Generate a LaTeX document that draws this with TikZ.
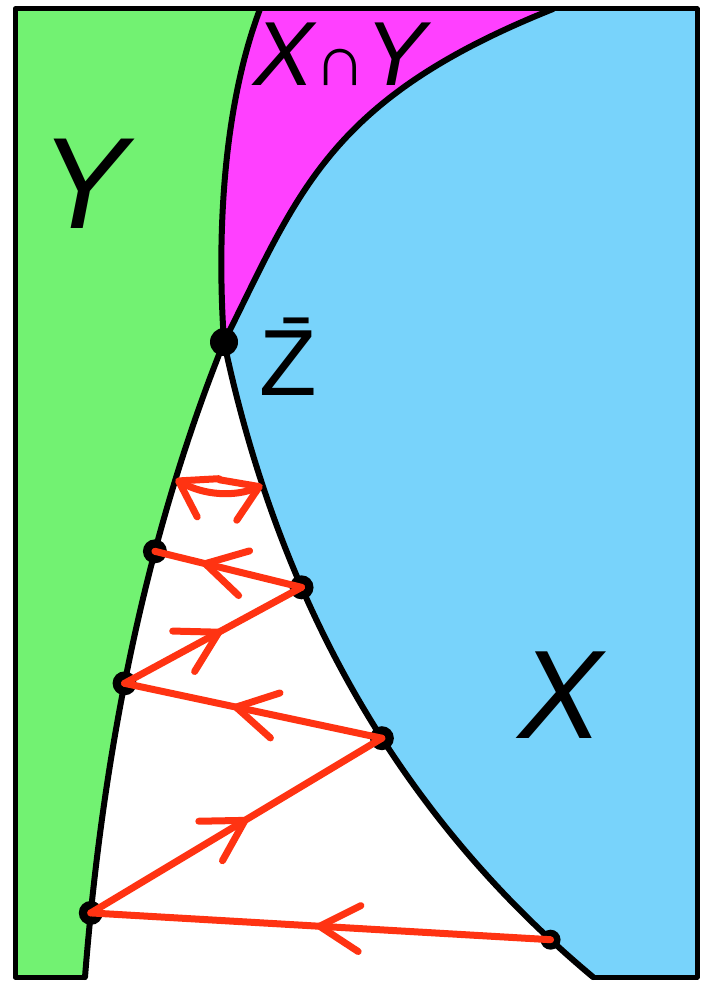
\documentclass[tikz,border=0pt]{standalone}
\usepackage{fontspec}
\setmainfont{Liberation Sans}
\usetikzlibrary{arrows.meta, decorations.markings}
\definecolor{figink}{HTML}{000000}
\definecolor{figgreen}{HTML}{72F272}
\definecolor{figblue}{HTML}{78D3FB}
\definecolor{figmag}{HTML}{FF40FF}
\definecolor{figred}{HTML}{FF3312}

\begin{document}
\begin{tikzpicture}[
  x=1pt, y=-1pt,
  line cap=round, line join=round,
  rim/.style   = {draw=figink, line width=5pt},
  edge/.style  = {draw=figink, line width=6pt},
  dot/.style   = {fill=figink},
  bounce/.style = {draw=figred, line width=7pt, postaction={decorate},
                   decoration={markings,
                     mark=at position #1 with {\arrow{Straight Barb[length=40pt, width=46pt, round]}}}},
  bounce/.default=0.55,
  swing/.style = {draw=figred, line width=7pt, {Straight Barb[length=34pt, width=44pt, round]}-{Straight Barb[length=34pt, width=44pt, round]}},
  lbl/.style   = {inner sep=0pt, text=figink}
]
\useasboundingbox (0,0) rectangle (701,982);

% frame corners
\coordinate (nw) at (15,9);
\coordinate (ne) at (697,9);
\coordinate (se) at (697,977);
\coordinate (sw) at (15,977);

% meeting point
\coordinate (zbar) at (224,342);

% boundary of Y
\coordinate (ytop) at (553,9);
\coordinate (ya1)  at (328,99);
\coordinate (ya2)  at (299,192);
\coordinate (yb1)  at (150,526);
\coordinate (yb2)  at (104,737);
\coordinate (ybot) at (85,977);

% boundary of X
\coordinate (xtop) at (260,9);
\coordinate (xa1)  at (222,110);
\coordinate (xa2)  at (217,240);
\coordinate (xb1)  at (283,620);
\coordinate (xb2)  at (412,826);
\coordinate (xbot) at (593,977);

% regions
\fill[figgreen] (nw) -- (ytop) .. controls (ya1) and (ya2) .. (zbar)
  .. controls (yb1) and (yb2) .. (ybot) -- (sw) -- cycle;
\fill[figblue] (xtop) -- (ne) -- (se) -- (xbot) .. controls (xb2) and (xb1) .. (zbar)
  .. controls (xa2) and (xa1) .. (xtop) -- cycle;
\fill[figmag] (xtop) -- (ytop) .. controls (ya1) and (ya2) .. (zbar)
  .. controls (xa2) and (xa1) .. (xtop) -- cycle;

% curves, with the points of the iteration on them
\draw[edge] (ytop) .. controls (ya1) and (ya2) .. (zbar);
\draw[edge] (zbar) .. controls (yb1) and (yb2) .. (ybot)
  coordinate[pos=0.24] (y0) coordinate[pos=0.36] (y1)
  coordinate[pos=0.57] (y2) coordinate[pos=0.91] (y3);
\draw[edge] (xtop) .. controls (xa1) and (xa2) .. (zbar);
\draw[edge] (zbar) .. controls (xb1) and (xb2) .. (xbot)
  coordinate[pos=0.18] (x0) coordinate[pos=0.32] (x1)
  coordinate[pos=0.55] (x2) coordinate[pos=0.92] (x3);
\draw[rim] (ybot) -- (sw) -- (nw) -- (ne) -- (se) -- (xbot);

\fill[dot] (zbar) circle[radius=14];
\foreach \p in {y1, y2, y3, x1, x2}
  \fill[dot] (\p) circle[radius=12];
\fill[dot] (x3) circle[radius=10];

% alternating projections
\draw[bounce=0.51] (x3) -- (y3);
\draw[bounce=0.54] (y3) -- (x2);
\draw[bounce=0.58] (x2) -- (y2);
\draw[bounce=0.55] (y2) -- (x1);
\draw[bounce=0.68] (x1) -- (y1);
\draw[swing] (y0) .. controls +(28,16) and +(-28,12) .. (x0);

% labels
\node[lbl, font=\fontsize{130}{130}\selectfont\itshape] (ylab) at (84,184) {Y};
\node[lbl, font=\fontsize{126}{126}\selectfont\itshape] (xlab) at (561,695) {X};
\node[lbl, font=\fontsize{91}{91}\selectfont\itshape, anchor=base] (xylab) at (340,85)
  {X{\fontsize{72}{72}\selectfont\upshape ∩}Y};
\node[lbl, font=\fontsize{94}{94}\selectfont, anchor=base] (zlab) at (288,395) {\={Z}};

\end{tikzpicture}
\end{document}
